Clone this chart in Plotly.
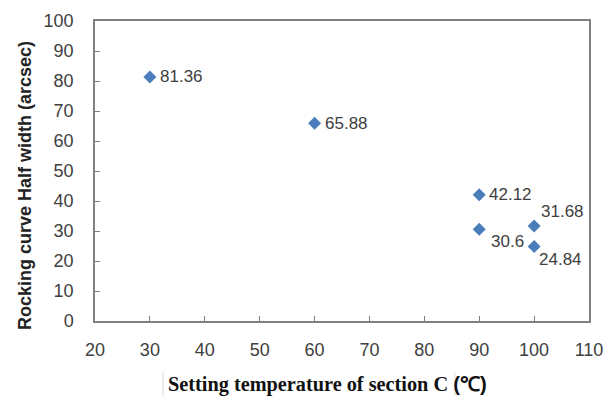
import plotly.graph_objects as go

temps = [30, 60, 90, 90, 100, 100]
half_width = [81.36, 65.88, 42.12, 30.6, 31.68, 24.84]
labels = ["81.36", "65.88", "42.12", "30.6", "31.68", "24.84"]
# label offsets (pixels) relative to each marker
label_dx = [8, 8, 8, 10, 5, 3]
label_dy = [0, 0, 0, -12, 14, -13]

x_ticks = [20, 30, 40, 50, 60, 70, 80, 90, 100, 110]
y_ticks = [0, 10, 20, 30, 40, 50, 60, 70, 80, 90, 100]

fig = go.Figure()
fig.add_trace(go.Scatter(
    x=temps, y=half_width, mode="markers",
    marker=dict(symbol="diamond", size=10, color="#4A7EBB"),
    showlegend=False, hoverinfo="x+y",
))

for xv, yv, t, dx, dy in zip(temps, half_width, labels, label_dx, label_dy):
    fig.add_annotation(x=xv, y=yv, text=t, showarrow=False, xanchor="left", yanchor="middle",
                       xshift=dx, yshift=dy,
                       font=dict(family="Liberation Sans, Arial, sans-serif", size=17, color="#404040"))

axis_common = dict(
    showgrid=False, zeroline=False, showline=True, linecolor="#808080", linewidth=1.5,
    mirror=True, ticks="inside", ticklen=5, tickcolor="#808080", automargin=False,
    tickfont=dict(family="Liberation Sans, Arial, sans-serif", size=18, color="#404040"),
)
fig.update_xaxes(range=[20, 110], tickvals=x_ticks, ticklabelstandoff=12, **axis_common)
fig.update_yaxes(range=[0, 100], tickvals=y_ticks, ticklabelstandoff=16, **axis_common)

fig.add_annotation(
    xref="paper", yref="paper", x=-(95 - 25) / 494, y=(321 - 186) / 300, textangle=-90, showarrow=False,
    text="<b>Rocking curve Half width (arcsec)</b>", xanchor="center", yanchor="middle",
    font=dict(family="Liberation Sans, Arial, sans-serif", size=18, color="#222222"),
)
fig.add_annotation(
    xref="paper", yref="paper", x=(166 - 95) / 494, y=-(384 - 321) / 300, showarrow=False,
    xanchor="left", yanchor="middle",
    text="<b>Setting temperature of section C</b> <span style='font-family:Liberation Sans, Arial, sans-serif'><b>(℃)</b></span>",
    font=dict(family="Liberation Serif, Times New Roman, serif", size=20.3, color="#111111"),
)
# faint frame around x-axis title as in the source image
fig.add_shape(type="line", xref="paper", yref="paper",
              x0=(163 - 95) / 494, x1=(163 - 95) / 494, y0=-(372 - 321) / 300, y1=-(396 - 321) / 300,
              line=dict(color="#d8d8d8", width=1))
fig.add_shape(type="line", xref="paper", yref="paper",
              x0=(455 - 95) / 494, x1=(455 - 95) / 494, y0=-(372 - 321) / 300, y1=-(396 - 321) / 300,
              line=dict(color="#e0e0e0", width=1))

fig.update_layout(
    width=606, height=396,
    margin=dict(l=95, r=17, t=21, b=75),
    plot_bgcolor="white", paper_bgcolor="white",
)

fig.write_html("out.html", config={"displayModeBar": False},
               post_script="document.body.style.margin='0';")
